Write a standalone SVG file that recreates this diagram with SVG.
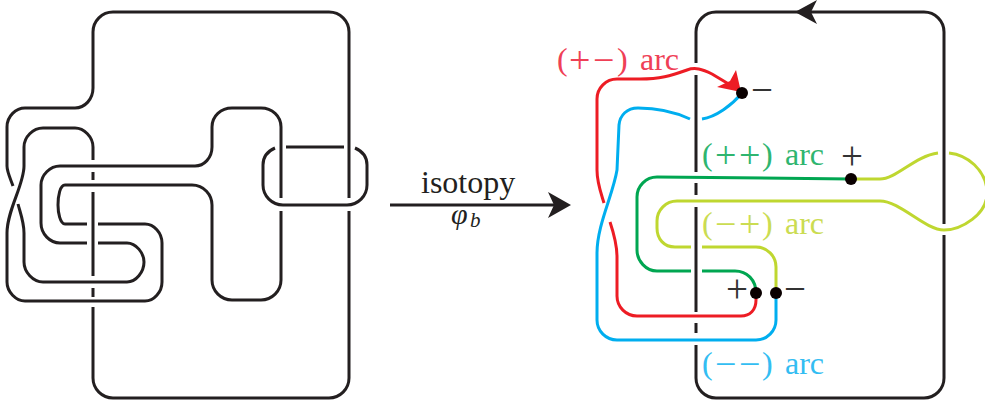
<svg xmlns="http://www.w3.org/2000/svg" width="985" height="402" viewBox="0 0 985 402">
<style>
path{fill:none;stroke-width:3;stroke-linecap:butt;stroke-linejoin:round}
.k{stroke:#231f20}.r{stroke:#ed1c24}.b{stroke:#00aeef}.g{stroke:#00a651}.y{stroke:#bfd730}
text{font-family:"Liberation Serif","Times New Roman",serif;font-size:32px}
.o{font-size:38px}
.tr{fill:#ef4056}.tb{fill:#33bdf2}.tg{fill:#2fb56f}.ty{fill:#cbdc52}.tk{fill:#231f20}
.m{font-size:39px;fill:#333}
circle{fill:#0a0000}
</style>
<g id="connectors">
<g id="left-knot">
<path class="k" d="M93 160V147C93 137 84 128 75 128H43C33 128 24 137 24 147V166C24 185 7 210 7 233V282C7 292 16 301 25 301H145C154 301 162 292 162 282V243C162 233 154 224 145 224H98M87 224H65C60 224 58 212 58 205C58 196 60 185 65 185H192C204 185 212 195 212 205V280C212 291 221 300 232 300H261C272 300 281 291 281 280V211"/>
<path class="k" d="M281 198V127C281 116 272 108 261 108H232C221 108 212 116 212 127V147C212 158 204 166 195 166H60C50 166 41 175 41 185V223C41 234 50 243 60 243H87M98 243H127C136 243 144 253 144 262C144 272 136 282 127 282H43C33 282 24 272 24 262V233C24 222 20 212 18 204M13 186C11 180 7 172 7 166V127C7 116 16 108 25 108H75C85 108 93 99 93 88V32C93 21 102 12 113 12H329C340 12 349 21 349 32V198M349 211V378C349 389 340 398 329 398H113C102 398 93 389 93 378V307M93 297V288M93 276V192M93 180V172"/>
<path class="k" d="M286 147H344M275 148C268 151 263 157 263 165V185C263 196 272 205 283 205H347C358 205 367 196 367 185V165C367 157 362 151 355 148"/>
</g>
<g id="isotopy-arrow">
<path class="k" d="M390 205H556"/>
<polygon fill="#231f20" points="571,205 548,192 554,205 548,218"/>
</g>
<g id="right-frame">
<path class="k" d="M696 63V32C696 21 705 12 716 12H924C935 12 944 21 944 32V224M944 235V378C944 389 935 398 924 398H716C705 398 696 389 696 378V345M696 333V323M696 312V207M696 195V183M696 172V75"/>
<polygon fill="#231f20" points="795,12 817,0 811,12 817,24"/>
</g>
<g id="arcs">
<path class="r" d="M737 89L712 74C702 69 695 67 687 70C670 76 660 79 640 79H617C606 79 597 88 597 99V170C597 183 601 193 604 203M610 222C614 234 617 245 617 257V296C617 307 626 316 637 316H741C750 316 756 310 756 300V293"/>
<polygon fill="#ed1c24" points="741,92 717,87 730,81 736,70"/>
<path class="b" d="M742 93C732 105 716 117 702 119M690 119C675 112 660 108 638 108C627 108 620 115 619 125L617 170C613 195 597 225 597 253V320C597 331 606 340 617 340H756C767 340 776 331 776 320V293"/>
<path class="g" d="M851 179L657 177C646 177 637 186 637 197V250C637 261 646 271 657 271H691M702 271H735C747 271 756 280 756 293"/>
<path class="y" d="M851 179L880 179C896 179 915 156 938 153M949 153C968 155 985 170 987 190C989 215 960 230 944 230C925 230 900 201 880 201H677C666 201 657 210 657 221V228C657 239 664 247 675 247H691M702 247H756C767 247 776 256 776 267V293"/>
</g>
</g>
<g id="node-minus-top"><circle cx="742" cy="93" r="6"/><text class="m" x="751" y="103">−</text></g>
<g id="node-plus-green"><circle cx="851" cy="179" r="6"/><text class="m" x="841" y="169">+</text></g>
<g id="node-plus-low"><circle cx="756" cy="293" r="6"/><text class="m" x="726" y="302">+</text></g>
<g id="node-minus-low"><circle cx="776" cy="293" r="6"/><text class="m" x="784" y="302">−</text></g>
<g id="labels">
<text class="tr"><tspan x="557" y="70">(</tspan><tspan class="o" x="569" y="73">+</tspan><tspan class="o" x="593" y="73">−</tspan><tspan x="617" y="70">)</tspan><tspan x="640" y="70">arc</tspan></text>
<text class="tg"><tspan x="702" y="165">(</tspan><tspan class="o" x="715" y="168">+</tspan><tspan class="o" x="739" y="168">+</tspan><tspan x="762" y="165">)</tspan><tspan x="785" y="165">arc</tspan></text>
<text class="ty"><tspan x="702" y="234">(</tspan><tspan class="o" x="715" y="237">−</tspan><tspan class="o" x="739" y="237">+</tspan><tspan x="762" y="234">)</tspan><tspan x="785" y="234">arc</tspan></text>
<text class="tb"><tspan x="702" y="374">(</tspan><tspan class="o" x="715" y="377">−</tspan><tspan class="o" x="739" y="377">−</tspan><tspan x="762" y="374">)</tspan><tspan x="785" y="374">arc</tspan></text>
<text class="tk" x="421" y="193">isotopy</text>
<text class="tk" x="451" y="224" font-style="italic" style="font-size:30px">φ<tspan x="470" y="227" style="font-size:21px">b</tspan></text>
</g>
</svg>
